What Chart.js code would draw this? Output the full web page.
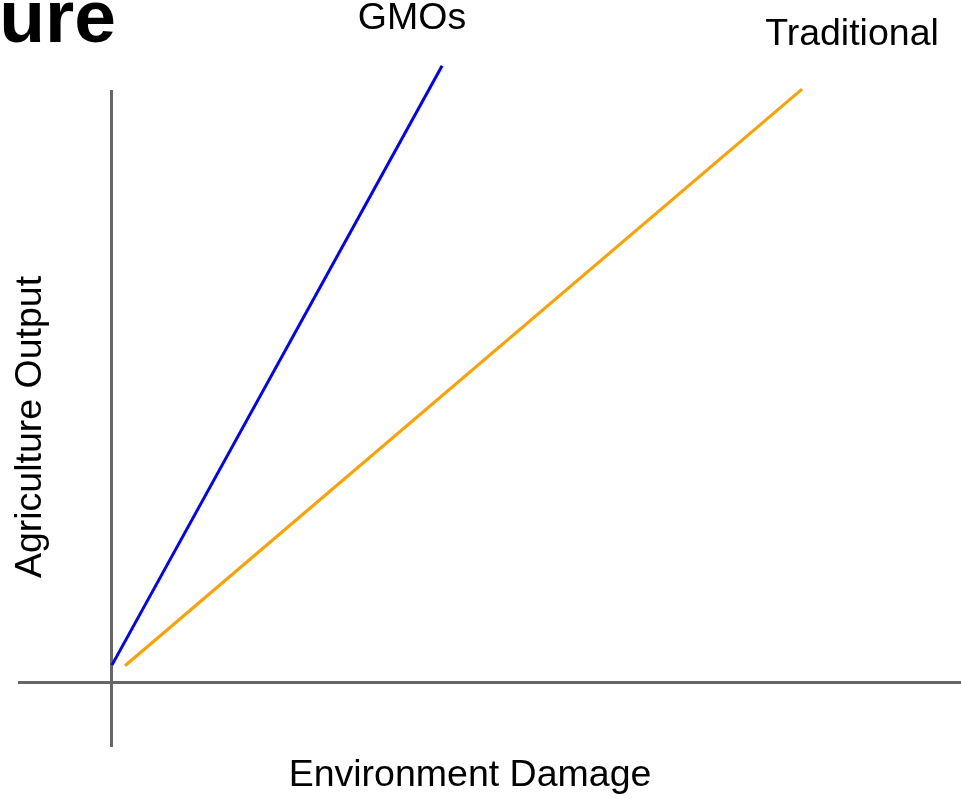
<!DOCTYPE html>
<html>
<head>
<meta charset="utf-8">
<script src="https://cdn.jsdelivr.net/npm/chart.js@4/dist/chart.umd.min.js"></script>
<style>
  html, body { margin: 0; padding: 0; background: #fff; }
  #wrap { width: 961px; height: 799px; position: relative; }
</style>
</head>
<body>
<div id="wrap"><canvas id="chart"></canvas></div>
<script>
// line end points, in axis units (origin where the two axes cross)
const gmoX = [0, 35.5];
const gmoY = [2.6, 94.8];
const tradX = [1.4, 74.2];
const tradY = [2.5, 91.2];

const seriesNames = ["GMOs", "Traditional"];
const xTitle = "Environment Damage";
const yTitle = "Agriculture Output";
const titleText = "ure";

const FONT = "'Liberation Sans', Arial, sans-serif";

function toPoints(xs, ys) {
  return xs.map((x, i) => ({ x, y: ys[i] }));
}

// draws the cut-off title, the line labels and the axis titles
const textPlugin = {
  id: "texts",
  afterDraw(chart) {
    const { ctx } = chart;
    ctx.save();
    ctx.fillStyle = "#000";

    ctx.font = `bold 75px ${FONT}`;
    ctx.textAlign = "right";
    ctx.textBaseline = "alphabetic";
    ctx.fillText(titleText, 116, 42);

    ctx.font = `37.5px ${FONT}`;
    ctx.textAlign = "center";
    ctx.textBaseline = "middle";
    ctx.fillText(seriesNames[0], 412, 19);
    ctx.fillText(seriesNames[1], 852, 35);
    ctx.fillText(xTitle, 470, 776);

    ctx.translate(31, 427);
    ctx.rotate(-Math.PI / 2);
    ctx.fillText(yTitle, 0, 0);
    ctx.restore();
  },
};

const axisOnly = (axis) => { axis.ticks = [{ value: 0 }]; };

new Chart(document.getElementById("chart"), {
  type: "scatter",
  data: {
    datasets: [
      {
        label: seriesNames[0],
        data: toPoints(gmoX, gmoY),
        showLine: true,
        borderColor: "#0000ff",
        borderWidth: 3,
        pointRadius: 0,
        clip: false,
      },
      {
        label: seriesNames[1],
        data: toPoints(tradX, tradY),
        showLine: true,
        borderColor: "#ffa000",
        borderWidth: 3,
        pointRadius: 0,
        clip: false,
      },
    ],
  },
  options: {
    responsive: true,
    maintainAspectRatio: false,
    animation: false,
    layout: { padding: { left: 18, right: 0, top: 90, bottom: 52 } },
    plugins: {
      legend: { display: false },
      tooltip: { enabled: false },
    },
    scales: {
      x: {
        type: "linear",
        min: -10.1,
        max: 91.3,
        afterBuildTicks: axisOnly,
        ticks: { display: false },
        border: { display: false },
        grid: { color: "#666", lineWidth: 3, drawTicks: false },
      },
      y: {
        type: "linear",
        min: -10,
        max: 91.08,
        afterBuildTicks: axisOnly,
        ticks: { display: false },
        border: { display: false },
        grid: { color: "#666", lineWidth: 3, drawTicks: false },
      },
    },
  },
  plugins: [textPlugin],
});
</script>
</body>
</html>
